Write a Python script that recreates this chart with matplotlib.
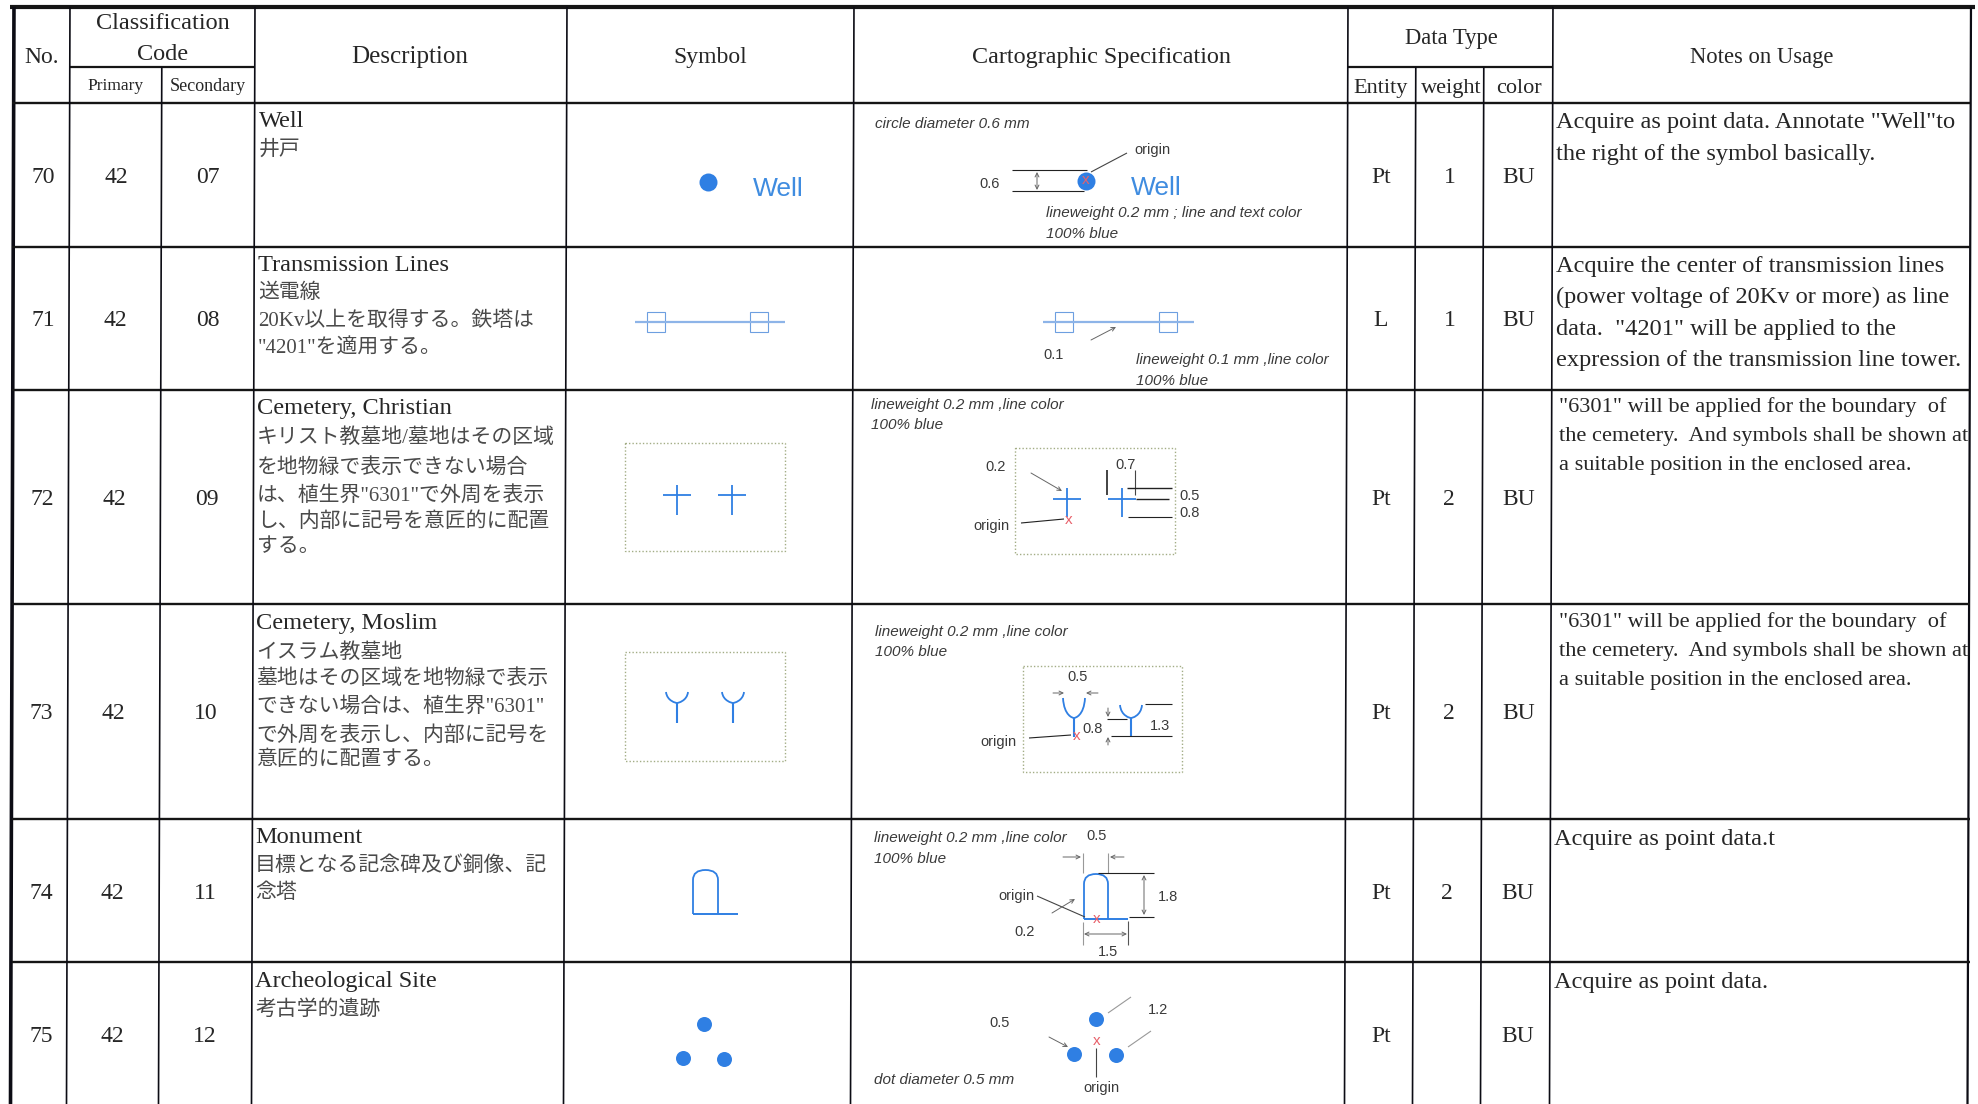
import matplotlib
matplotlib.use("Agg")
import matplotlib.pyplot as plt
from matplotlib.path import Path
from matplotlib.patches import PathPatch, Rectangle

plt.rcParams['font.family'] = ['Liberation Serif', 'Noto Sans CJK JP', 'DejaVu Sans']

BLUE = '#2f7fe3'
SANS = ['Liberation Sans', 'DejaVu Sans']
SERIF = ['Liberation Serif', 'Noto Sans CJK JP']

numbers = ["70", "71", "72", "73", "74", "75"]
primary = ["42", "42", "42", "42", "42", "42"]
secondary = ["07", "08", "09", "10", "11", "12"]
entity = ["Pt", "L", "Pt", "Pt", "Pt", "Pt"]
weight = ["1", "1", "2", "2", "2", ""]
color_code = ["BU", "BU", "BU", "BU", "BU", "BU"]

descriptions = [
	["Well", "井戸"],
	["Transmission Lines", "送電線", "20Kv以上を取得する。鉄塔は", "\"4201\"を適用する。"],
	["Cemetery, Christian", "キリスト教墓地/墓地はその区域", "を地物緑で表示できない場合", "は、植生界\"6301\"で外周を表示", "し、内部に記号を意匠的に配置", "する。"],
	["Cemetery, Moslim", "イスラム教墓地", "墓地はその区域を地物緑で表示", "できない場合は、植生界\"6301\"", "で外周を表示し、内部に記号を", "意匠的に配置する。"],
	["Monument", "目標となる記念碑及び銅像、記", "念塔"],
	["Archeological Site", "考古学的遺跡"],
]
notes = [
	["Acquire as point data. Annotate \"Well\"to", "the right of the symbol basically."],
	["Acquire the center of transmission lines", "(power voltage of 20Kv or more) as line", "data.  \"4201\" will be applied to the", "expression of the transmission line tower."],
	["\"6301\" will be applied for the boundary  of", "the cemetery.  And symbols shall be shown at", "a suitable position in the enclosed area."],
	["\"6301\" will be applied for the boundary  of", "the cemetery.  And symbols shall be shown at", "a suitable position in the enclosed area."],
	["Acquire as point data.t"],
	["Acquire as point data."],
]

# layout of the scanned table, in pixels of the 1978x1104 page
row_lines = [103, 247, 390, 604, 819, 962]
row_mid = [175, 318, 497, 711, 891, 1034]
desc_y = [
	[120, 148],
	[264, 291, 319, 347],
	[407, 436, 465, 493, 520, 545],
	[622, 651, 677, 704, 733, 758],
	[836, 864, 891],
	[980, 1008],
]
desc_x = [259, 258, 257, 256, 255, 255]
notes_y = [
	[121, 153],
	[265, 296, 328, 359],
	[406, 435, 464],
	[621, 650, 679],
	[838],
	[981],
]
notes_x = [1556, 1556, 1559, 1559, 1554, 1554]
notes_size = [17.6, 17.6, 16.1, 16.1, 17.6, 17.6]
no_x = [43, 43, 42, 41, 41, 41]
prim_x = [116, 115, 114, 113, 112, 112]
sec_x = [208, 208, 207, 206, 205, 205]
ent_x = [1381, 1381, 1381, 1381, 1381, 1381]
wgt_x = [1450, 1450, 1449, 1449, 1447, 1447]
col_x = [1519, 1519, 1519, 1519, 1518, 1518]


def sk(x, y):
	# the scan leans a little to the left going down
	return x - 3.5 * y / 1104


def vline(ax, x, y0, y1, lw=1.2):
	ax.plot([sk(x, y0), sk(x, y1)], [y0, y1], color='#0c0c14', lw=lw, solid_capstyle='butt')


def hline(ax, x0, x1, y, lw=1.6):
	ax.plot([x0, x1], [y, y], color='#151515', lw=lw, solid_capstyle='butt')


def serif(ax, x, y, s, size=17, ha='center', color='#262626'):
	# va center sits a little high for this font
	ax.text(x, y + 2.5, s, fontsize=size, ha=ha, va='center', color=color, family=SERIF)


def spec(ax, x, y, s):
	ax.text(x, y, s, fontsize=11, ha='left', va='center', style='italic', color='#3a3a3a', family=SANS)


def label(ax, x, y, s):
	ax.text(x, y, s, fontsize=10.5, ha='center', va='center', color='#3a3a3a', family=SANS)


def seg(ax, xs, ys, color='#444444', lw=0.8):
	ax.plot(xs, ys, color=color, lw=lw, solid_capstyle='butt')


def arrow(ax, x0, y0, x1, y1, style='->'):
	ax.annotate("", xy=(x1, y1), xytext=(x0, y0),
		arrowprops=dict(arrowstyle=style, color='#666666', lw=0.7, mutation_scale=7, shrinkA=0, shrinkB=0))


def dot(ax, x, y, d):
	ax.plot([x], [y], 'o', color=BLUE, ms=d * 0.72, mew=0)


def red_x(ax, x, y):
	ax.text(x, y, "x", fontsize=11, ha='center', va='center', color='#e8606a', family=SANS)


def cross(ax, x, y, top, bottom):
	seg(ax, [x - 14, x + 14], [y, y], BLUE, 1.3)
	seg(ax, [x, x], [top, bottom], BLUE, 1.3)


def fork(ax, x, top, mid, bottom, half):
	verts = [(x - half, top), (x - half + 1, mid - 2), (x - 1, mid), (x, mid),
		(x + 1, mid), (x + half - 1, mid - 2), (x + half, top)]
	codes = [Path.MOVETO, Path.CURVE4, Path.CURVE4, Path.CURVE4, Path.CURVE4, Path.CURVE4, Path.CURVE4]
	ax.add_patch(PathPatch(Path(verts, codes), fc='none', ec=BLUE, lw=1.3))
	seg(ax, [x, x], [mid, bottom], BLUE, 1.5)


def arch(ax, x0, x1, top, spring, base, foot):
	verts = [(x0, base), (x0, spring), (x0, top), ((x0 + x1) / 2, top), (x1, top), (x1, spring), (x1, base)]
	codes = [Path.MOVETO, Path.LINETO, Path.CURVE3, Path.CURVE3, Path.CURVE3, Path.CURVE3, Path.LINETO]
	ax.add_patch(PathPatch(Path(verts, codes), fc='none', ec=BLUE, lw=1.3))
	seg(ax, [x0, foot], [base, base], BLUE, 1.4)


def dotted_box(ax, x0, x1, y0, y1):
	ax.add_patch(Rectangle((x0, y0), x1 - x0, y1 - y0, fc='none', ec='#a3ad85', lw=1.0, ls=(0, (1, 1.5))))


def towers(ax, x0, x1, x2, x3, x4, x5):
	seg(ax, [x0, x5], [322, 322], '#8db4e8', 1.6)
	for a, b in ((x1, x2), (x3, x4)):
		ax.add_patch(Rectangle((a, 312), b - a, 20, fc='none', ec='#6d9fe0', lw=0.8))


def draw_table(ax):
	# outer frame
	hline(ax, 10, 1975, 7, 3.0)
	vline(ax, 14, 7, 1104, 2.6)
	vline(ax, 1971, 7, 1104, 1.6)
	# rows
	for y in row_lines:
		hline(ax, 12, 1970, y, 1.7)
	hline(ax, 70, 255, 67, 1.6)
	hline(ax, 1348, 1553, 67, 1.6)
	# columns
	for x in [70, 255, 567, 854, 1348, 1553]:
		vline(ax, x, 7, 1104, 1.2)
	vline(ax, 162, 67, 1104, 1.2)
	vline(ax, 1416, 67, 1104, 1.2)
	vline(ax, 1484, 67, 1104, 1.2)


def draw_header(ax):
	serif(ax, 42, 55, "No.", 17)
	serif(ax, 163, 21, "Classification", 17.5)
	serif(ax, 163, 52, "Code", 17.5)
	serif(ax, 116, 84, "Primary", 12.5)
	serif(ax, 208, 84, "Secondary", 13)
	serif(ax, 410, 55, "Description", 18)
	serif(ax, 710, 55, "Symbol", 17)
	serif(ax, 1101, 55, "Cartographic Specification", 17.4)
	serif(ax, 1451, 36, "Data Type", 16.3)
	serif(ax, 1381, 86, "Entity", 16)
	serif(ax, 1451, 86, "weight", 16)
	serif(ax, 1519, 86, "color", 16)
	serif(ax, 1762, 55, "Notes on Usage", 16.3)


def draw_rows(ax):
	for i in range(len(numbers)):
		y = row_mid[i]
		serif(ax, no_x[i], y, numbers[i], 17)
		serif(ax, prim_x[i], y, primary[i], 17)
		serif(ax, sec_x[i], y, secondary[i], 17)
		serif(ax, ent_x[i], y, entity[i], 17)
		if weight[i]:
			serif(ax, wgt_x[i], y, weight[i], 17)
		serif(ax, col_x[i], y, color_code[i], 17)
		for k, line in enumerate(descriptions[i]):
			if k == 0:
				serif(ax, desc_x[i], desc_y[i][k] - 1, line, 17.6, ha='left')
			else:
				serif(ax, desc_x[i], desc_y[i][k], line, 15, ha='left', color='#4a4a4a')
		for k, line in enumerate(notes[i]):
			serif(ax, notes_x[i], notes_y[i][k] - 1, line, notes_size[i], ha='left')


def draw_symbols(ax):
	# 70 well
	dot(ax, 708, 182, 18)
	ax.text(778, 189, "Well", fontsize=19, ha='center', va='center', color='#3f8ce0', family=SANS)
	# 71 transmission line
	towers(ax, 635, 647, 665, 750, 768, 785)
	# 72 cemetery
	dotted_box(ax, 625, 785, 443, 551)
	cross(ax, 677, 495, 485, 515)
	cross(ax, 732, 495, 485, 515)
	# 73 cemetery
	dotted_box(ax, 625, 785, 652, 761)
	fork(ax, 677, 692, 703, 723, 11)
	fork(ax, 733, 692, 703, 723, 11)
	# 74 monument
	arch(ax, 693, 718, 870, 880, 914, 738)
	# 75 site
	dot(ax, 704, 1024, 15)
	dot(ax, 683, 1058, 15)
	dot(ax, 724, 1059, 15)


def draw_specs(ax):
	# 70
	spec(ax, 875, 124, "circle diameter 0.6 mm")
	label(ax, 1152, 150, "origin")
	seg(ax, [1127, 1091], [153, 172])
	label(ax, 990, 184, "0.6")
	seg(ax, [1012, 1087], [170, 170], '#222222')
	seg(ax, [1012, 1084], [191, 191], '#222222')
	arrow(ax, 1037, 172, 1037, 190, '<->')
	dot(ax, 1086, 181, 18)
	red_x(ax, 1086, 180)
	ax.text(1156, 188, "Well", fontsize=19, ha='center', va='center', color='#3f8ce0', family=SANS)
	spec(ax, 1046, 213, "lineweight 0.2 mm ; line and text color")
	spec(ax, 1046, 234, "100% blue")
	# 71
	towers(ax, 1043, 1055, 1073, 1159, 1177, 1194)
	arrow(ax, 1091, 340, 1116, 327)
	label(ax, 1054, 355, "0.1")
	spec(ax, 1136, 360, "lineweight 0.1 mm ,line color")
	spec(ax, 1136, 381, "100% blue")
	# 72
	spec(ax, 871, 405, "lineweight 0.2 mm ,line color")
	spec(ax, 871, 425, "100% blue")
	dotted_box(ax, 1015, 1175, 448, 554)
	cross(ax, 1067, 499, 488, 517)
	cross(ax, 1122, 499, 488, 517)
	label(ax, 996, 467, "0.2")
	arrow(ax, 1031, 473, 1062, 491)
	label(ax, 991, 526, "origin")
	seg(ax, [1021, 1064], [523, 519], '#222222')
	red_x(ax, 1069, 520)
	label(ax, 1126, 465, "0.7")
	seg(ax, [1107, 1107], [470, 495], '#222222', 1.2)
	seg(ax, [1135, 1135], [470, 495])
	seg(ax, [1127, 1172], [488, 488], '#222222', 1.0)
	seg(ax, [1136, 1169], [499, 499], '#222222', 1.0)
	seg(ax, [1128, 1172], [517, 517], '#222222', 0.8)
	label(ax, 1190, 496, "0.5")
	label(ax, 1190, 513, "0.8")
	# 73
	spec(ax, 875, 632, "lineweight 0.2 mm ,line color")
	spec(ax, 875, 652, "100% blue")
	dotted_box(ax, 1023, 1182, 666, 772)
	label(ax, 1078, 677, "0.5")
	arrow(ax, 1053, 693, 1064, 693)
	arrow(ax, 1098, 693, 1086, 693)
	fork(ax, 1074, 698, 718, 737, 11)
	fork(ax, 1131, 705, 718, 736, 11)
	seg(ax, [1145, 1172], [704, 704], '#222222')
	seg(ax, [1107, 1127], [719, 719], '#222222')
	seg(ax, [1111, 1172], [736, 736], '#222222')
	label(ax, 1093, 729, "0.8")
	label(ax, 1160, 726, "1.3")
	arrow(ax, 1108, 708, 1108, 717)
	arrow(ax, 1108, 745, 1108, 737)
	label(ax, 998, 742, "origin")
	seg(ax, [1029, 1071], [738, 735], '#222222')
	red_x(ax, 1077, 736)
	# 74
	spec(ax, 874, 838, "lineweight 0.2 mm ,line color")
	spec(ax, 874, 859, "100% blue")
	label(ax, 1097, 836, "0.5")
	arrow(ax, 1063, 857, 1081, 857)
	arrow(ax, 1124, 857, 1110, 857)
	seg(ax, [1083, 1083], [853, 873], '#999999')
	seg(ax, [1108, 1108], [853, 873], '#999999')
	arch(ax, 1084, 1108, 874, 884, 919, 1128)
	seg(ax, [1098, 1154], [873, 873], '#222222')
	seg(ax, [1129, 1154], [917, 917], '#222222')
	arrow(ax, 1144, 875, 1144, 915, '<->')
	label(ax, 1168, 897, "1.8")
	label(ax, 1016, 896, "origin")
	seg(ax, [1037, 1085], [896, 917])
	red_x(ax, 1097, 919)
	label(ax, 1025, 932, "0.2")
	arrow(ax, 1052, 913, 1075, 899)
	seg(ax, [1083, 1083], [922, 945], '#999999')
	seg(ax, [1128, 1128], [921, 945], '#555555')
	arrow(ax, 1084, 934, 1127, 934, '<->')
	label(ax, 1108, 952, "1.5")
	# 75
	dot(ax, 1096, 1019, 15)
	dot(ax, 1074, 1054, 15)
	dot(ax, 1116, 1055, 15)
	red_x(ax, 1097, 1041)
	seg(ax, [1096, 1096], [1048, 1077])
	label(ax, 1101, 1088, "origin")
	label(ax, 1158, 1010, "1.2")
	label(ax, 1000, 1023, "0.5")
	arrow(ax, 1049, 1037, 1068, 1047)
	seg(ax, [1108, 1131], [1013, 997], '#999999')
	seg(ax, [1128, 1151], [1047, 1031], '#999999')
	spec(ax, 874, 1080, "dot diameter 0.5 mm")


if __name__ == "__main__":
	fig = plt.figure(figsize=(19.78, 11.04), dpi=100)
	ax = fig.add_axes([0, 0, 1, 1])
	ax.set_xlim(0, 1978)
	ax.set_ylim(1104, 0)
	ax.axis('off')
	draw_table(ax)
	draw_header(ax)
	draw_rows(ax)
	draw_symbols(ax)
	draw_specs(ax)
	fig.savefig("out.png", dpi=100, facecolor='white')
